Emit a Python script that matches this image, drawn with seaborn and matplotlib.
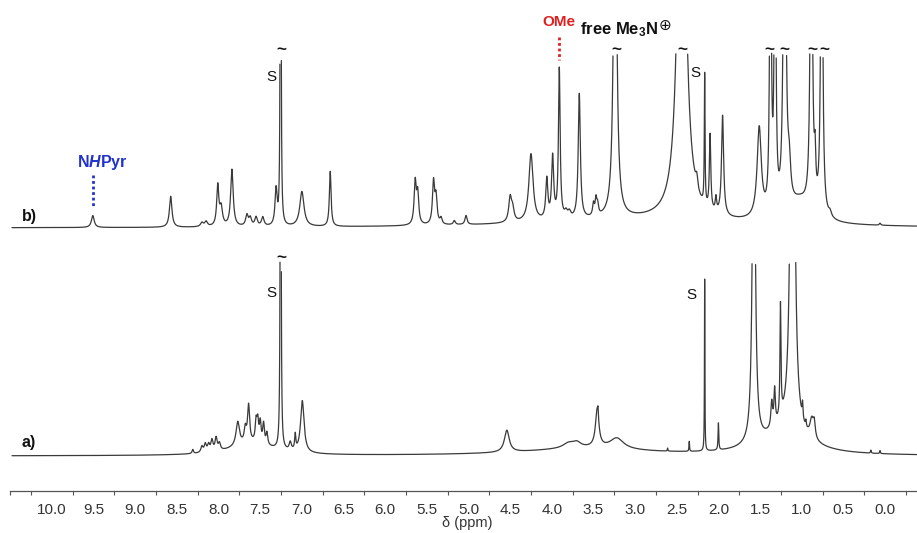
import numpy as np
import pandas as pd
import matplotlib
matplotlib.use("Agg")
import matplotlib.pyplot as plt
import seaborn as sns

sns.set_theme(style="white")
plt.rcParams["font.family"] = ["Liberation Sans", "DejaVu Sans"]
plt.rcParams["mathtext.fontset"] = "custom"
plt.rcParams["mathtext.rm"] = "Liberation Sans:bold"
plt.rcParams["mathtext.it"] = "Liberation Sans:bold:italic"
plt.rcParams["mathtext.bf"] = "Liberation Sans:bold"

# ---- peak tables: chemical shift (ppm), height, half-width (ppm) ----
# spectrum b)
b_shift = [9.51, 8.575, 8.20, 8.15, 8.01, 7.97, 7.84,
           7.66, 7.62, 7.55, 7.47, 7.31, 7.255, 7.00, 6.66,
           5.64, 5.61, 5.42, 5.39, 5.33, 5.17, 5.03,
           3.0, 4.50, 4.47, 4.25, 4.06, 3.99, 3.91, 3.83, 3.79, 3.67,
           3.50, 3.47, 3.45, 3.24, 2.44, 2.26, 2.165, 2.10, 2.03, 1.95,
           1.51, 1.375, 1.32, 1.205, 1.15, 1.02, 0.885, 0.84, 0.76, 0.66, 0.06]
b_height = [12, 31, 4, 5, 40, 18, 57,
            11, 8, 9, 9, 36, 900, 35, 55,
            42, 30, 42, 26, 6, 4, 9,
            8, 24, 12, 68, 40, 62, 150, 6, 6, 125,
            12, 16, 10, 430, 500, 12, 130, 75, 14, 100,
            90, 400, 400, 500, 35, 20, 450, 40, 450, 5, 2]
b_width = [0.02, 0.018, 0.02, 0.02, 0.015, 0.02, 0.018,
           0.018, 0.018, 0.018, 0.018, 0.015, 0.004, 0.03, 0.012,
           0.015, 0.015, 0.015, 0.015, 0.015, 0.015, 0.015,
           1.5, 0.02, 0.02, 0.03, 0.015, 0.015, 0.012, 0.02, 0.02, 0.015,
           0.012, 0.012, 0.012, 0.02, 0.05, 0.015, 0.005, 0.01, 0.01, 0.015,
           0.03, 0.01, 0.01, 0.015, 0.02, 0.15, 0.013, 0.01, 0.012, 0.02, 0.01]

# spectrum a)
a_shift = [8.31, 8.20, 8.16, 8.12, 8.08, 8.03, 7.99, 7.6, 7.77, 7.68, 7.64,
           7.55, 7.53, 7.50, 7.46, 7.42, 7.255, 7.14, 7.08, 6.995,
           3.6, 4.54, 3.80, 3.70, 3.455, 3.445, 3.22, 2.61, 2.35, 2.165, 2.00,
           1.575, 1.36, 1.325, 1.255, 1.11, 1.2, 0.99, 0.95, 0.88, 0.85, 0.17, 0.06]
a_height = [4, 6, 8, 7, 11, 13, 7, 12, 24, 14, 37,
            20, 20, 20, 20, 12, 900, 8, 15, 52,
            7, 22, 5, 5, 37, 8, 11, 3, 10, 172, 27,
            430, 25, 35, 112, 800, 25, 15, 6, 18, 15, 3, 3]
a_width = [0.01, 0.015, 0.015, 0.015, 0.015, 0.015, 0.015, 0.3, 0.025, 0.015, 0.015,
           0.012, 0.012, 0.012, 0.012, 0.012, 0.004, 0.015, 0.008, 0.025,
           0.9, 0.035, 0.08, 0.06, 0.025, 0.005, 0.1, 0.004, 0.004, 0.003, 0.005,
           0.018, 0.012, 0.01, 0.007, 0.02, 0.3, 0.006, 0.006, 0.025, 0.015, 0.005, 0.005]

# vertical offsets of the stacked traces and the cut level of tall signals
offsets = {"b": 305, "a": 77}
cut_level = {"b": 480, "a": 271}

# ---- build the traces from the peak tables ----
grid = np.linspace(10.48, -0.38, 26000)


def lorentz_sum(shift, height, width):
    out = np.zeros_like(grid)
    for c, h, w in zip(shift, height, width):
        out += h / (1.0 + ((grid - c) / w) ** 2)
    return out


frames = []
seg_id = 0
for name, (sh, he, wi) in {"b": (b_shift, b_height, b_width),
                           "a": (a_shift, a_height, a_width)}.items():
    y = offsets[name] + lorentz_sum(sh, he, wi)
    keep = y <= cut_level[name]
    # split into continuous pieces so cut peaks stay open at the top
    starts = np.flatnonzero(np.diff(np.r_[0, keep.astype(int)]) == 1)
    ends = np.flatnonzero(np.diff(np.r_[keep.astype(int), 0]) == -1) + 1
    for s, e in zip(starts, ends):
        frames.append(pd.DataFrame({"ppm": grid[s:e], "intensity": y[s:e],
                                    "trace": name, "seg": seg_id}))
        seg_id += 1
df = pd.concat(frames, ignore_index=True)

fig = plt.figure(figsize=(9.17, 5.33), dpi=100)
ax = fig.add_axes([0, 0, 1, 1])
sns.lineplot(data=df, x="ppm", y="intensity", units="seg", estimator=None,
             sort=False, color="#3a3a3a", lw=0.9, legend=False, ax=ax)

ax.set_xlim(10.624, -0.384)
ax.set_ylim(0, 533)

# ppm axis
for side in ("left", "top", "right"):
    ax.spines[side].set_visible(False)
ax.spines["bottom"].set_position(("data", 42.3))
ax.spines["bottom"].set_bounds(-0.384, 10.5)
ax.spines["bottom"].set_color("#555555")
ax.spines["bottom"].set_linewidth(0.9)
major = np.arange(0, 10.01, 0.5)
ax.set_xticks(major)
ax.set_xticklabels([f"{v:.1f}" for v in major])
ax.set_xticks(np.r_[np.arange(-0.25, 10.3, 0.5), 10.5], minor=True)
ax.tick_params(axis="x", which="major", direction="out", length=4, width=0.8,
               color="#555555", labelsize=11, labelcolor="#333333", pad=5)
ax.tick_params(axis="x", which="minor", direction="out", length=3, width=0.8,
               color="#555555", bottom=True)
ax.set_yticks([])
ax.set_xlabel("")
ax.set_ylabel("")
ax.text(5.02, 10, "δ (ppm)", ha="center", va="center", fontsize=10.5,
        color="#333333")

# trace labels
ax.text(10.27, 316, "b)", ha="center", va="center",
        fontsize=11.5, fontweight="bold", color="#111111")
ax.text(10.28, 90, "a)", ha="center", va="center",
        fontsize=11.5, fontweight="bold", color="#111111")

# assignments
blue = "#2233cc"
red = "#e02020"
ax.text(9.40, 370, r"N$\mathit{H}$Pyr", ha="center", va="center",
        fontsize=11.5, fontweight="bold", color=blue)
ax.plot([9.51, 9.51], [358, 325], color=blue, lw=2.0, ls=(0, (1, 1)))
ax.text(3.91, 511, "OMe", ha="center", va="center", fontsize=11,
        fontweight="bold", color=red)
ax.plot([3.91, 3.91], [496, 473], color=red, lw=2.0, ls=(0, (1, 1)))
me3n = ax.text(3.66, 503, r"free Me$_\mathbf{3}$N", ha="left", va="center",
               fontsize=12, fontweight="bold", color="#111111")
fig.canvas.draw()
end = me3n.get_window_extent()
x_end = ax.transData.inverted().transform((end.x1, end.y1))[0]
ax.text(x_end, 508, "⊕", ha="left", va="center", fontsize=11,
        color="#111111", family="DejaVu Sans")

# cut-peak marks
for x in [7.25, 3.22, 2.43, 1.39, 1.21, 0.87, 0.73]:
    ax.text(x, 483, "~", ha="center", va="center", fontsize=12.5,
            fontweight="bold", color="#111111")
ax.text(7.25, 275, "~", ha="center", va="center", fontsize=12.5,
        fontweight="bold", color="#111111")

# solvent marks
for x, y in [(7.37, 456), (2.28, 460), (7.37, 240), (2.32, 238)]:
    ax.text(x, y, "S", ha="center", va="center", fontsize=11, color="#111111")

fig.savefig("out.png", dpi=100)
